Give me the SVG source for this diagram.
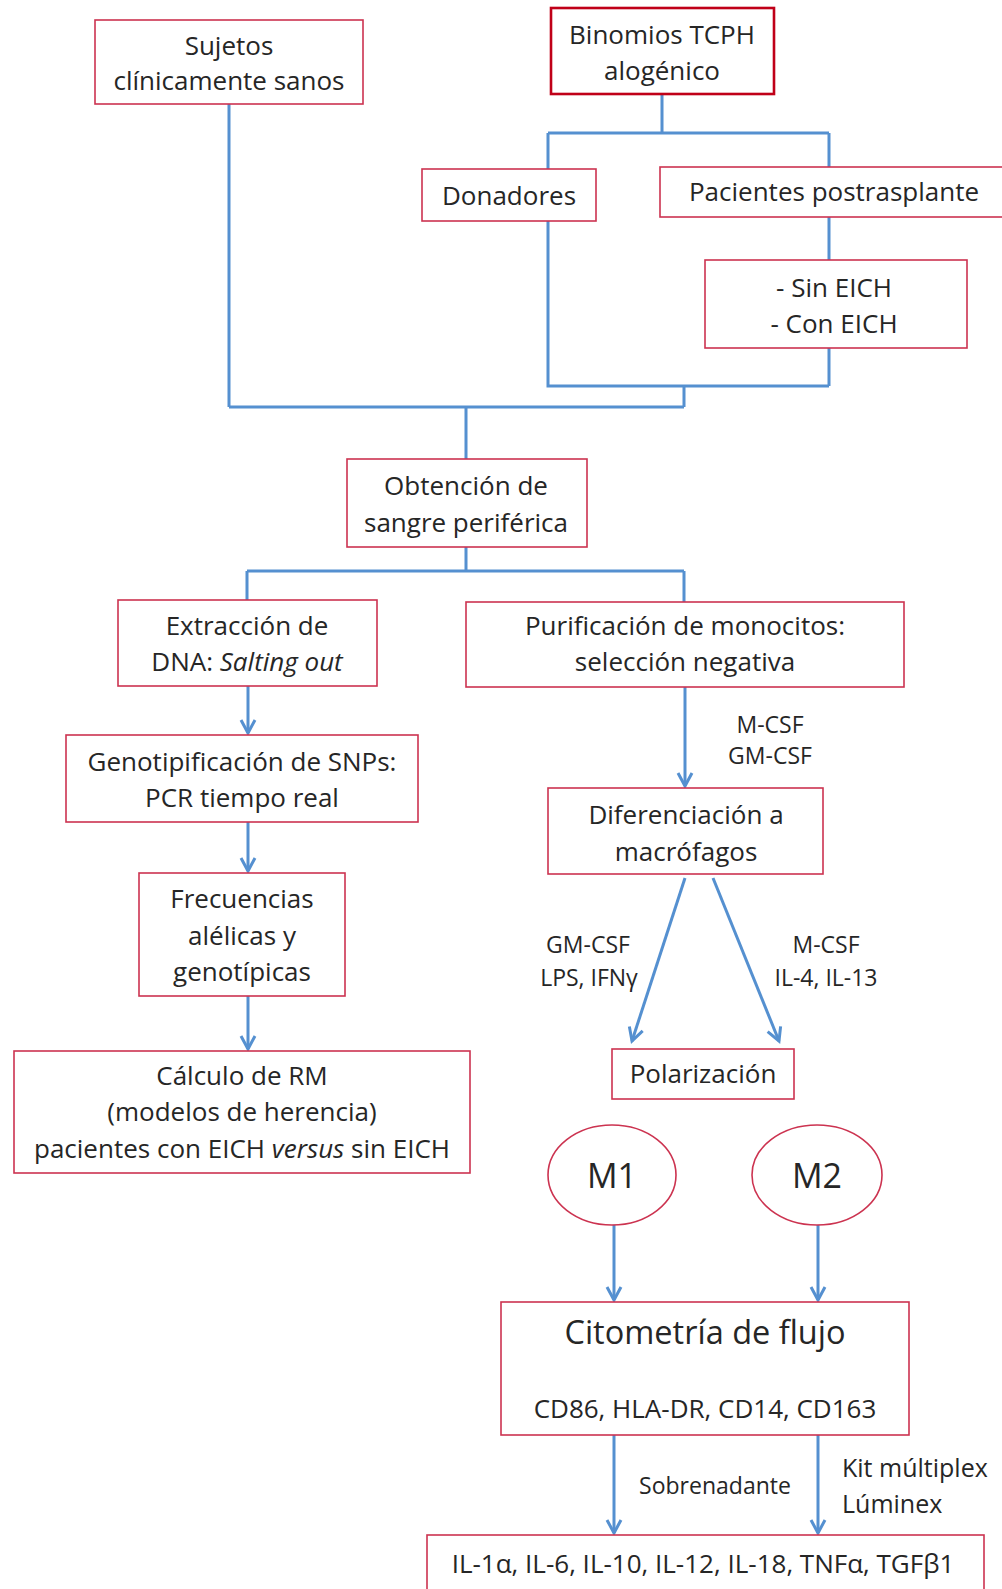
<svg xmlns="http://www.w3.org/2000/svg" width="1002" height="1589" viewBox="0 0 1002 1589">
<defs>
<style>
.box{fill:#fff;stroke:#cc3350;stroke-width:1.6}
.boxd{fill:#fff;stroke:#c00018;stroke-width:2.6}
.t{font-family:"Open Sans","Noto Sans","Liberation Sans",sans-serif;font-size:26px;fill:#262626;text-anchor:middle;dominant-baseline:central}
.l{font-family:"Open Sans","Noto Sans","Liberation Sans",sans-serif;font-size:23px;fill:#262626;text-anchor:middle;dominant-baseline:central}
.c{fill:none;stroke:#5590d0;stroke-width:3}
.a{fill:none;stroke:#5590d0;stroke-width:3;marker-end:url(#arr)}
</style>
<marker id="arr" viewBox="-16 -10 20 20" refX="0" refY="0" markerWidth="20" markerHeight="20" markerUnits="userSpaceOnUse" orient="auto">
<path d="M-13,-7 L0,0 L-13,7" fill="none" stroke="#5590d0" stroke-width="3"/>
</marker>
</defs>
<rect width="1002" height="1589" fill="#fff"/>
<g id="connectors">
<path class="c" d="M662,94 V133 M548,133 H829 M548,133 V169 M829,133 V167 M829,217 V260 M829,348 V386 M548,221 V386 H829 M684,386 V407 M229,407 H684 M229,104 V407 M466,407 V459 M466,547 V571 M247,571 H684 M247,571 V600 M684,571 V602"/>
<path class="a" d="M248,686 V733"/>
<path class="a" d="M685,687 V786"/>
<path class="a" d="M248,822 V871"/>
<path class="a" d="M248,996 V1049"/>
<path class="a" d="M685,878 L632,1041"/>
<path class="a" d="M713,878 L779,1041"/>
<path class="a" d="M614,1225 V1300"/>
<path class="a" d="M818,1225 V1300"/>
<path class="a" d="M614,1435 V1533"/>
<path class="a" d="M818,1435 V1533"/>
<text class="l" x="770" y="724">M-CSF</text>
<text class="l" x="770" y="755">GM-CSF</text>
<text class="l" x="588" y="944">GM-CSF</text>
<text class="l" x="589" y="977">LPS, IFNγ</text>
<text class="l" x="826" y="944">M-CSF</text>
<text class="l" x="826" y="977">IL-4, IL-13</text>
<text class="l" x="715" y="1485">Sobrenadante</text>
<text class="l" x="842" y="1467" style="text-anchor:start;font-size:25px">Kit múltiplex</text>
<text class="l" x="842" y="1503" style="text-anchor:start;font-size:25px">Lúminex</text>
</g>
<g id="sujetos"><rect class="box" x="95" y="20" width="268" height="84"/>
<text class="t" x="229" y="45">Sujetos</text><text class="t" x="229" y="80">clínicamente sanos</text></g>
<g id="binomios"><rect class="boxd" x="551" y="8" width="223" height="86"/>
<text class="t" x="662" y="34">Binomios TCPH</text><text class="t" x="662" y="70">alogénico</text></g>
<g id="donadores"><rect class="box" x="422" y="169" width="174" height="52"/>
<text class="t" x="509" y="195">Donadores</text></g>
<g id="pacientes"><rect class="box" x="660" y="167" width="350" height="50"/>
<text class="t" x="834" y="191">Pacientes postrasplante</text></g>
<g id="eich"><rect class="box" x="705" y="260" width="262" height="88"/>
<text class="t" x="834" y="287">- Sin EICH</text><text class="t" x="834" y="323">- Con EICH</text></g>
<g id="obtencion"><rect class="box" x="347" y="459" width="240" height="88"/>
<text class="t" x="466" y="485">Obtención de</text><text class="t" x="466" y="522">sangre periférica</text></g>
<g id="extraccion"><rect class="box" x="118" y="600" width="259" height="86"/>
<text class="t" x="247" y="625">Extracción de</text><text class="t" x="247" y="661">DNA: <tspan font-style="italic">Salting out</tspan></text></g>
<g id="purificacion"><rect class="box" x="466" y="602" width="438" height="85"/>
<text class="t" x="685" y="625">Purificación de monocitos:</text><text class="t" x="685" y="661">selección negativa</text></g>
<g id="genotipificacion"><rect class="box" x="66" y="735" width="352" height="87"/>
<text class="t" x="242" y="761">Genotipificación de SNPs:</text><text class="t" x="242" y="797">PCR tiempo real</text></g>
<g id="diferenciacion"><rect class="box" x="548" y="788" width="275" height="86"/>
<text class="t" x="686" y="814">Diferenciación  a</text><text class="t" x="686" y="851">macrófagos</text></g>
<g id="frecuencias"><rect class="box" x="139" y="873" width="206" height="123"/>
<text class="t" x="242" y="898">Frecuencias</text><text class="t" x="242" y="935">alélicas y</text><text class="t" x="242" y="971">genotípicas</text></g>
<g id="calculo"><rect class="box" x="14" y="1051" width="456" height="122"/>
<text class="t" x="242" y="1075">Cálculo de RM</text><text class="t" x="242" y="1111">(modelos de herencia)</text><text class="t" x="242" y="1148">pacientes con EICH <tspan font-style="italic">versus</tspan> sin EICH</text></g>
<g id="polarizacion"><rect class="box" x="612" y="1049" width="182" height="50"/>
<text class="t" x="703" y="1073">Polarización</text></g>
<g id="m1"><ellipse class="box" cx="612" cy="1175" rx="64" ry="50"/>
<text class="t" x="612" y="1175" style="font-size:34px">M1</text></g>
<g id="m2"><ellipse class="box" cx="817" cy="1175" rx="65" ry="50"/>
<text class="t" x="817" y="1175" style="font-size:34px">M2</text></g>
<g id="citometria"><rect class="box" x="501" y="1302" width="408" height="133"/>
<text class="t" x="705" y="1331" style="font-size:32.5px">Citometría de flujo</text><text class="t" x="705" y="1408">CD86, HLA-DR, CD14, CD163</text></g>
<g id="citocinas"><rect class="box" x="427" y="1535" width="557" height="60"/>
<text class="t" x="703" y="1563">IL-1α, IL-6, IL-10, IL-12, IL-18, TNFα, TGFβ1</text></g>
</svg>
